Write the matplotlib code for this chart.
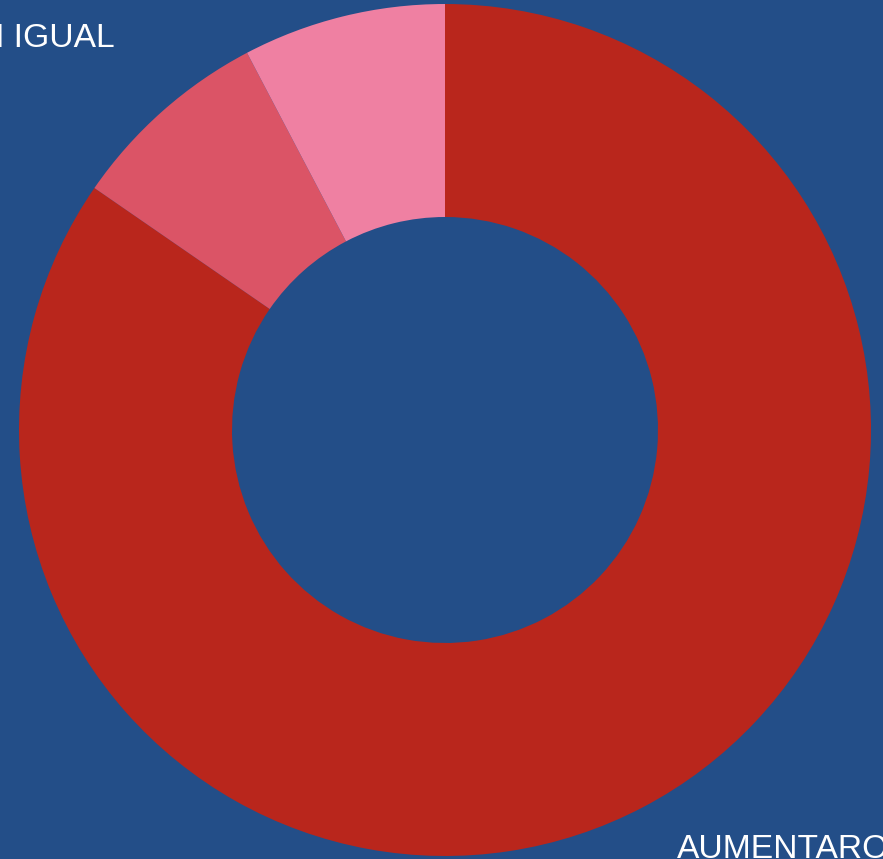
import numpy as np
import matplotlib.pyplot as plt

labels = ['AUMENTARON', 'DISMINUYERON', 'SE MANTIENEN IGUAL']
values = [11, 1, 1]
colors = ['#b9261c', '#db5466', '#ef80a2']
bg = '#234e88'

W, H = 883, 859

def main():
    fig = plt.figure(figsize=(W / 100, H / 100), dpi=100, facecolor=bg)
    ax = fig.add_axes([0, 0, 1, 1])
    ax.set_facecolor(bg)
    ax.pie(values, colors=colors, startangle=90, counterclock=False,
           center=(445, H - 430), radius=426, frame=True,
           wedgeprops=dict(width=213, linewidth=0))
    ax.set_xlim(0, W)
    ax.set_ylim(0, H)
    ax.set_aspect('equal')
    ax.axis('off')

    font = dict(family=['Liberation Sans', 'DejaVu Sans'], size=24.2, color='white')
    ax.text(115, H - 47, labels[2], ha='right', va='baseline', **font)
    ax.text(677, H - 858, labels[0], ha='left', va='baseline', **font)

    fig.savefig('out.png', dpi=100, facecolor=bg)

if __name__ == '__main__':
    main()
